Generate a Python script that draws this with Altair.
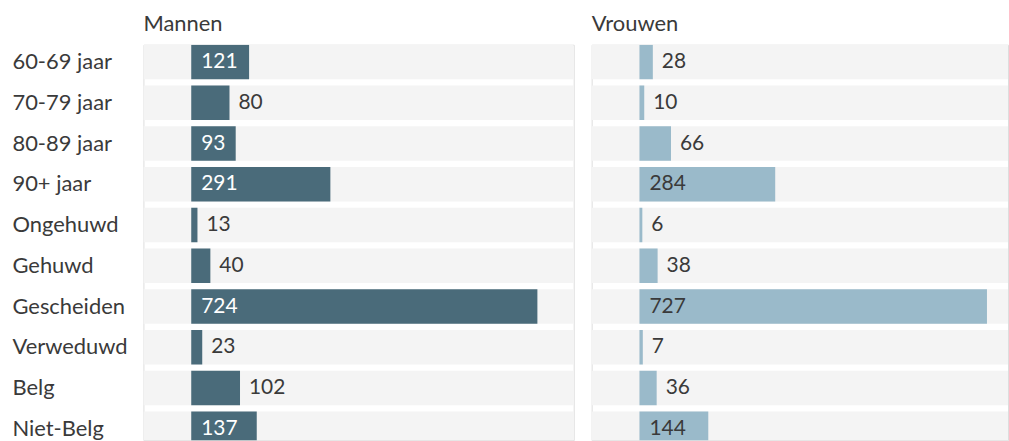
import altair as alt
import pandas as pd

categories = ["60-69 jaar", "70-79 jaar", "80-89 jaar", "90+ jaar", "Ongehuwd",
              "Gehuwd", "Gescheiden", "Verweduwd", "Belg", "Niet-Belg"]
mannen = [121, 80, 93, 291, 13, 40, 724, 23, 102, 137]
vrouwen = [28, 10, 66, 284, 6, 38, 727, 7, 36, 144]
mannen_label_inside = [1, 0, 1, 1, 0, 0, 1, 0, 0, 1]
vrouwen_label_inside = [0, 0, 0, 1, 0, 0, 1, 0, 0, 1]

FONT = "Lato"
TEXT = "#3a3a3a"
ROWS_PX = 403


def panel(values, inside, title, color, inside_color, xmax, width, show_axis):
    df = pd.DataFrame({
        "cat": categories,
        "v": values,
        "inside": inside,
        "base": [0] * len(categories),
        "lo": [-100] * len(categories),
        "hi": [xmax] * len(categories),
    })
    xscale = alt.Scale(domain=[-100, xmax], nice=False, zero=False)
    yaxis = alt.Axis(title=None, labelAlign="left", labelPadding=132, ticks=False,
                     domain=False, labelFontSize=22, labelFont=FONT, labelColor=TEXT,
                     labelLimit=300) if show_axis else None
    y = alt.Y("cat:N", sort=categories,
              scale=alt.Scale(range=[0, ROWS_PX], paddingInner=0.15, paddingOuter=0),
              axis=yaxis)
    base = alt.Chart(df)
    bg = base.mark_bar(color="#f4f4f4", clip=True).encode(
        x=alt.X("lo:Q", scale=xscale, axis=None), x2="hi:Q", y=y)
    bars = base.mark_bar(color=color, clip=True).encode(
        x=alt.X("v:Q", scale=xscale, axis=None), x2="base:Q", y=y)
    t_in = base.transform_filter("datum.inside == 1").mark_text(
        align="left", baseline="middle", dx=10, font=FONT, fontSize=21,
        color=inside_color, clip=True
    ).encode(x=alt.X("base:Q", scale=xscale, axis=None), y=y, text="v:Q")
    t_out = base.transform_filter("datum.inside == 0").mark_text(
        align="left", baseline="middle", dx=9, font=FONT, fontSize=21,
        color=TEXT, clip=True
    ).encode(x=alt.X("v:Q", scale=xscale, axis=None), y=y, text="v:Q")
    return alt.layer(bg, bars, t_in, t_out).properties(
        width=width, height=397,
        title=alt.Title(title, anchor="start", frame="group", fontSize=22, font=FONT,
                        fontWeight="normal", color=TEXT, baseline="alphabetic", offset=-8),
    )


left = panel(mannen, mannen_label_inside, "Mannen", "#4a6b7a", "#ffffff", 800, 432, True)
right = panel(vrouwen, vrouwen_label_inside, "Vrouwen", "#9abaca", TEXT, 771, 418, False)

chart = alt.hconcat(left, right, spacing=16).properties(
    padding={"left": 11, "top": 11, "right": 0, "bottom": 0},
).configure_view(stroke=None).configure(background="#ffffff")

chart.save("out.html", embed_options={"renderer": "svg", "actions": False})
